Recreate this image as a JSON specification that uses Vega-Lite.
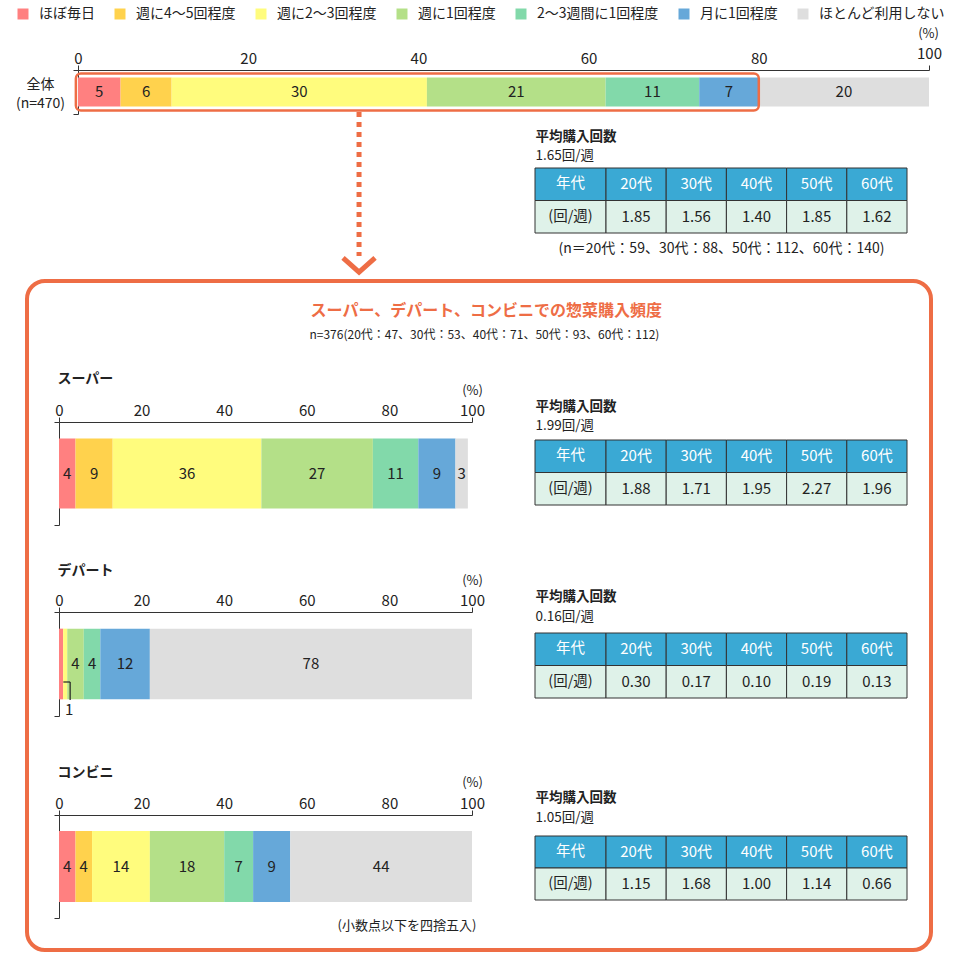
{
"$schema": "https://vega.github.io/schema/vega-lite/v6.json",
"width": 960, "height": 963, "autosize": "none", "padding": 0, "background": "#ffffff",
"config": {
  "font": "Noto Sans CJK JP",
  "view": {"stroke": null},
  "axis": {"grid": false, "labelColor": "#222222", "titleColor": "#222222", "domainColor": "#333333", "tickColor": "#333333", "domainWidth": 1, "tickWidth": 1},
  "legend": {"labelColor": "#222222"}
},
"datasets": {
  "bars": [
    {"store": "全体 (n=470)", "cat": "ほぼ毎日", "value": 5, "order": 1},
    {"store": "全体 (n=470)", "cat": "週に4〜5回程度", "value": 6, "order": 2},
    {"store": "全体 (n=470)", "cat": "週に2〜3回程度", "value": 30, "order": 3},
    {"store": "全体 (n=470)", "cat": "週に1回程度", "value": 21, "order": 4},
    {"store": "全体 (n=470)", "cat": "2〜3週間に1回程度", "value": 11, "order": 5},
    {"store": "全体 (n=470)", "cat": "月に1回程度", "value": 7, "order": 6},
    {"store": "全体 (n=470)", "cat": "ほとんど利用しない", "value": 20, "order": 7},
    {"store": "スーパー", "cat": "ほぼ毎日", "value": 4, "order": 1},
    {"store": "スーパー", "cat": "週に4〜5回程度", "value": 9, "order": 2},
    {"store": "スーパー", "cat": "週に2〜3回程度", "value": 36, "order": 3},
    {"store": "スーパー", "cat": "週に1回程度", "value": 27, "order": 4},
    {"store": "スーパー", "cat": "2〜3週間に1回程度", "value": 11, "order": 5},
    {"store": "スーパー", "cat": "月に1回程度", "value": 9, "order": 6},
    {"store": "スーパー", "cat": "ほとんど利用しない", "value": 3, "order": 7},
    {"store": "デパート", "cat": "ほぼ毎日", "value": 1, "order": 1},
    {"store": "デパート", "cat": "週に4〜5回程度", "value": 0, "order": 2},
    {"store": "デパート", "cat": "週に2〜3回程度", "value": 1, "order": 3},
    {"store": "デパート", "cat": "週に1回程度", "value": 4, "order": 4},
    {"store": "デパート", "cat": "2〜3週間に1回程度", "value": 4, "order": 5},
    {"store": "デパート", "cat": "月に1回程度", "value": 12, "order": 6},
    {"store": "デパート", "cat": "ほとんど利用しない", "value": 78, "order": 7},
    {"store": "コンビニ", "cat": "ほぼ毎日", "value": 4, "order": 1},
    {"store": "コンビニ", "cat": "週に4〜5回程度", "value": 4, "order": 2},
    {"store": "コンビニ", "cat": "週に2〜3回程度", "value": 14, "order": 3},
    {"store": "コンビニ", "cat": "週に1回程度", "value": 18, "order": 4},
    {"store": "コンビニ", "cat": "2〜3週間に1回程度", "value": 7, "order": 5},
    {"store": "コンビニ", "cat": "月に1回程度", "value": 9, "order": 6},
    {"store": "コンビニ", "cat": "ほとんど利用しない", "value": 44, "order": 7}
  ],
  "tables": [
    {"store": "全体", "row": "h", "col": "年代", "text": "年代"},
    {"store": "全体", "row": "v", "col": "年代", "text": "(回/週)"},
    {"store": "全体", "row": "h", "col": "20代", "text": "20代"},
    {"store": "全体", "row": "v", "col": "20代", "text": "1.85"},
    {"store": "全体", "row": "h", "col": "30代", "text": "30代"},
    {"store": "全体", "row": "v", "col": "30代", "text": "1.56"},
    {"store": "全体", "row": "h", "col": "40代", "text": "40代"},
    {"store": "全体", "row": "v", "col": "40代", "text": "1.40"},
    {"store": "全体", "row": "h", "col": "50代", "text": "50代"},
    {"store": "全体", "row": "v", "col": "50代", "text": "1.85"},
    {"store": "全体", "row": "h", "col": "60代", "text": "60代"},
    {"store": "全体", "row": "v", "col": "60代", "text": "1.62"},
    {"store": "スーパー", "row": "h", "col": "年代", "text": "年代"},
    {"store": "スーパー", "row": "v", "col": "年代", "text": "(回/週)"},
    {"store": "スーパー", "row": "h", "col": "20代", "text": "20代"},
    {"store": "スーパー", "row": "v", "col": "20代", "text": "1.88"},
    {"store": "スーパー", "row": "h", "col": "30代", "text": "30代"},
    {"store": "スーパー", "row": "v", "col": "30代", "text": "1.71"},
    {"store": "スーパー", "row": "h", "col": "40代", "text": "40代"},
    {"store": "スーパー", "row": "v", "col": "40代", "text": "1.95"},
    {"store": "スーパー", "row": "h", "col": "50代", "text": "50代"},
    {"store": "スーパー", "row": "v", "col": "50代", "text": "2.27"},
    {"store": "スーパー", "row": "h", "col": "60代", "text": "60代"},
    {"store": "スーパー", "row": "v", "col": "60代", "text": "1.96"},
    {"store": "デパート", "row": "h", "col": "年代", "text": "年代"},
    {"store": "デパート", "row": "v", "col": "年代", "text": "(回/週)"},
    {"store": "デパート", "row": "h", "col": "20代", "text": "20代"},
    {"store": "デパート", "row": "v", "col": "20代", "text": "0.30"},
    {"store": "デパート", "row": "h", "col": "30代", "text": "30代"},
    {"store": "デパート", "row": "v", "col": "30代", "text": "0.17"},
    {"store": "デパート", "row": "h", "col": "40代", "text": "40代"},
    {"store": "デパート", "row": "v", "col": "40代", "text": "0.10"},
    {"store": "デパート", "row": "h", "col": "50代", "text": "50代"},
    {"store": "デパート", "row": "v", "col": "50代", "text": "0.19"},
    {"store": "デパート", "row": "h", "col": "60代", "text": "60代"},
    {"store": "デパート", "row": "v", "col": "60代", "text": "0.13"},
    {"store": "コンビニ", "row": "h", "col": "年代", "text": "年代"},
    {"store": "コンビニ", "row": "v", "col": "年代", "text": "(回/週)"},
    {"store": "コンビニ", "row": "h", "col": "20代", "text": "20代"},
    {"store": "コンビニ", "row": "v", "col": "20代", "text": "1.15"},
    {"store": "コンビニ", "row": "h", "col": "30代", "text": "30代"},
    {"store": "コンビニ", "row": "v", "col": "30代", "text": "1.68"},
    {"store": "コンビニ", "row": "h", "col": "40代", "text": "40代"},
    {"store": "コンビニ", "row": "v", "col": "40代", "text": "1.00"},
    {"store": "コンビニ", "row": "h", "col": "50代", "text": "50代"},
    {"store": "コンビニ", "row": "v", "col": "50代", "text": "1.14"},
    {"store": "コンビニ", "row": "h", "col": "60代", "text": "60代"},
    {"store": "コンビニ", "row": "v", "col": "60代", "text": "0.66"}
  ]
},
"layer": [
  {
    "data": {"name": "bars"},
    "transform": [{"filter": "datum.store === '全体 (n=470)'"}],
    "encoding": {
      "y": {"field": "store", "type": "nominal", "scale": {"range": [70, 114], "paddingInner": 0, "paddingOuter": 0},
        "axis": {"orient": "left", "offset": -78, "tickBand": "extent", "tickSize": 5, "labelExpr": "split(datum.label, ' ')", "labelAlign": "center", "labelBaseline": "middle", "labelPadding": 33, "labelOffset": -8, "labelFontSize": 14, "labelLineHeight": 19.5, "title": null}}
    },
    "layer": [
      {"mark": {"type": "bar", "height": {"band": 0.66}},
       "encoding": {
         "x": {"field": "value", "type": "quantitative", "stack": "zero", "scale": {"domain": [0, 100], "range": [78, 929], "nice": false},
           "axis": {"orient": "top", "offset": -70, "values": [0, 20, 40, 60, 80, 100], "labelFontSize": 15, "labelBaseline": "alphabetic", "labelPadding": {"condition": {"test": "datum.value === 100", "value": 7}, "value": 2}, "labelFlush": false, "labelOverlap": false, "tickSize": 5, "tickOpacity": {"condition": {"test": "datum.value === 0 || datum.value === 100", "value": 1}, "value": 0}, "title": "(%)", "titleX": 928, "titleY": -37, "titleAlign": "center", "titleBaseline": "middle", "titleFontSize": 13, "titleFontWeight": "normal"}},
         "color": {"field": "cat", "type": "nominal",
           "scale": {"domain": ["ほぼ毎日", "週に4〜5回程度", "週に2〜3回程度", "週に1回程度", "2〜3週間に1回程度", "月に1回程度", "ほとんど利用しない"], "range": ["#FF8080", "#FFD24D", "#FFFC7D", "#B4E088", "#82D9AA", "#66A8D9", "#DEDEDE"]},
           "legend": {"orient": "none", "legendX": 16, "legendY": 7, "direction": "horizontal", "columns": 7, "title": null, "symbolType": "square", "symbolSize": 121, "symbolStrokeWidth": 0, "labelFontSize": 14, "labelOffset": 9, "columnPadding": 18, "padding": 0}},
         "order": {"field": "order", "type": "quantitative"}
       }},
      {"mark": {"type": "text", "fontSize": 15, "color": "#222222"},
       "encoding": {
         "x": {"field": "value", "type": "quantitative", "stack": "zero", "bandPosition": 0.5},
         "detail": {"field": "cat", "type": "nominal"},
         "order": {"field": "order", "type": "quantitative"},
         "text": {"condition": {"test": "datum.value >= 3", "field": "value", "type": "quantitative"}, "value": ""}
       }},
      {"transform": [{"filter": "datum.order === 1"}],
       "mark": {"type": "bar", "height": {"band": 0.84}, "fill": "transparent", "stroke": "#EE6D45", "strokeWidth": 2.5, "cornerRadius": 5},
       "encoding": {"x": {"datum": -0.25, "type": "quantitative"}, "x2": {"datum": 80}}}
    ]
  },
  {
    "data": {"name": "tables"},
    "transform": [{"filter": "datum.store === '全体'"}],
    "encoding": {
      "y": {"field": "row", "type": "nominal", "scale": {"range": [168, 233], "paddingInner": 0, "paddingOuter": 0},
        "axis": {"orient": "left", "offset": -535, "labels": false, "ticks": false, "domain": false, "title": "1.65回/週", "titleAngle": 0, "titleAlign": "left", "titleBaseline": "middle", "titleX": 0, "titleY": 155, "titleFontSize": 13.5, "titleFontWeight": "normal"}}
    },
    "layer": [
      {"transform": [{"filter": "datum.col === '年代'"}],
       "encoding": {"x": {"field": "col", "type": "nominal", "scale": {"range": [535, 606], "paddingInner": 0, "paddingOuter": 0},
         "axis": {"orient": "top", "offset": -168, "labels": false, "ticks": false, "domain": false, "title": "平均購入回数", "titleX": 535, "titleY": -32, "titleAlign": "left", "titleBaseline": "middle", "titleFontSize": 13.5, "titleFontWeight": "bold"}}},
       "layer": [
         {"mark": {"type": "rect", "stroke": "#333333", "strokeWidth": 1},
          "encoding": {"fill": {"field": "row", "type": "nominal", "scale": {"domain": ["h", "v"], "range": ["#3AA9D4", "#DFF2E9"]}, "legend": null}}},
         {"mark": {"type": "text", "fontSize": 14.5},
          "encoding": {"text": {"field": "text", "type": "nominal"}, "color": {"condition": {"test": "datum.row === 'h'", "value": "#ffffff"}, "value": "#222222"}}}
       ]},
      {"transform": [{"filter": "datum.col !== '年代'"}],
       "encoding": {"x": {"field": "col", "type": "nominal", "scale": {"range": [606, 907], "paddingInner": 0, "paddingOuter": 0},
         "axis": {"orient": "bottom", "offset": -730, "labels": false, "ticks": false, "domain": false, "title": "(n＝20代：59、30代：88、50代：112、60代：140)", "titleX": 721, "titleY": 15, "titleAlign": "center", "titleBaseline": "middle", "titleFontSize": 14, "titleFontWeight": "normal"}}},
       "layer": [
         {"mark": {"type": "rect", "stroke": "#333333", "strokeWidth": 1},
          "encoding": {"fill": {"field": "row", "type": "nominal", "scale": {"domain": ["h", "v"], "range": ["#3AA9D4", "#DFF2E9"]}, "legend": null}}},
         {"mark": {"type": "text", "fontSize": 15},
          "encoding": {"text": {"field": "text", "type": "nominal"}, "color": {"condition": {"test": "datum.row === 'h'", "value": "#ffffff"}, "value": "#222222"}}}
       ]}
    ],
    "resolve": {"scale": {"x": "independent"}}
  },
  {
    "data": {"name": "bars"},
    "transform": [{"filter": "datum.store === 'スーパー'"}],
    "encoding": {
      "y": {"field": "store", "type": "nominal", "scale": {"range": [422, 525], "paddingInner": 0, "paddingOuter": 0},
        "axis": {"orient": "left", "offset": -59, "labels": false, "tickBand": "extent", "tickSize": 5, "title": "スーパー", "titleAngle": 0, "titleX": -2, "titleY": 378, "titleAlign": "left", "titleBaseline": "middle", "titleFontSize": 14, "titleFontWeight": "bold"}}
    },
    "layer": [
      {"mark": {"type": "bar", "height": {"band": 0.68}},
       "encoding": {
         "x": {"field": "value", "type": "quantitative", "stack": "zero", "scale": {"domain": [0, 100], "range": [59, 472], "nice": false},
           "axis": {"orient": "top", "offset": -422, "values": [0, 20, 40, 60, 80, 100], "labelFontSize": 15, "labelBaseline": "alphabetic", "labelPadding": 2, "labelFlush": false, "labelOverlap": false, "tickSize": 5, "tickOpacity": {"condition": {"test": "datum.value === 0 || datum.value === 100", "value": 1}, "value": 0}, "title": "(%)", "titleX": 472, "titleY": -32, "titleAlign": "center", "titleBaseline": "middle", "titleFontSize": 13, "titleFontWeight": "normal"}},
         "color": {"field": "cat", "type": "nominal",
           "scale": {"domain": ["ほぼ毎日", "週に4〜5回程度", "週に2〜3回程度", "週に1回程度", "2〜3週間に1回程度", "月に1回程度", "ほとんど利用しない"], "range": ["#FF8080", "#FFD24D", "#FFFC7D", "#B4E088", "#82D9AA", "#66A8D9", "#DEDEDE"]},
           "legend": {"orient": "none", "legendX": 16, "legendY": 7, "direction": "horizontal", "columns": 7, "title": null, "symbolType": "square", "symbolSize": 121, "symbolStrokeWidth": 0, "labelFontSize": 14, "labelOffset": 9, "columnPadding": 18, "padding": 0}},
         "order": {"field": "order", "type": "quantitative"}
       }},
      {"mark": {"type": "text", "fontSize": 15, "color": "#222222"},
       "encoding": {
         "x": {"field": "value", "type": "quantitative", "stack": "zero", "bandPosition": 0.5},
         "detail": {"field": "cat", "type": "nominal"},
         "order": {"field": "order", "type": "quantitative"},
         "text": {"condition": {"test": "datum.value >= 3", "field": "value", "type": "quantitative"}, "value": ""}
       }}
    ]
  },
  {
    "data": {"name": "tables"},
    "transform": [{"filter": "datum.store === 'スーパー'"}],
    "encoding": {
      "y": {"field": "row", "type": "nominal", "scale": {"range": [440, 505], "paddingInner": 0, "paddingOuter": 0},
        "axis": {"orient": "left", "offset": -535, "labels": false, "ticks": false, "domain": false, "title": "1.99回/週", "titleAngle": 0, "titleAlign": "left", "titleBaseline": "middle", "titleX": 0, "titleY": 425, "titleFontSize": 13.5, "titleFontWeight": "normal"}}
    },
    "layer": [
      {"transform": [{"filter": "datum.col === '年代'"}],
       "encoding": {"x": {"field": "col", "type": "nominal", "scale": {"range": [535, 606], "paddingInner": 0, "paddingOuter": 0},
         "axis": {"orient": "top", "offset": -440, "labels": false, "ticks": false, "domain": false, "title": "平均購入回数", "titleX": 535, "titleY": -33.5, "titleAlign": "left", "titleBaseline": "middle", "titleFontSize": 13.5, "titleFontWeight": "bold"}}},
       "layer": [
         {"mark": {"type": "rect", "stroke": "#333333", "strokeWidth": 1},
          "encoding": {"fill": {"field": "row", "type": "nominal", "scale": {"domain": ["h", "v"], "range": ["#3AA9D4", "#DFF2E9"]}, "legend": null}}},
         {"mark": {"type": "text", "fontSize": 14.5},
          "encoding": {"text": {"field": "text", "type": "nominal"}, "color": {"condition": {"test": "datum.row === 'h'", "value": "#ffffff"}, "value": "#222222"}}}
       ]},
      {"transform": [{"filter": "datum.col !== '年代'"}],
       "encoding": {"x": {"field": "col", "type": "nominal", "scale": {"range": [606, 907], "paddingInner": 0, "paddingOuter": 0}, "axis": null}},
       "layer": [
         {"mark": {"type": "rect", "stroke": "#333333", "strokeWidth": 1},
          "encoding": {"fill": {"field": "row", "type": "nominal", "scale": {"domain": ["h", "v"], "range": ["#3AA9D4", "#DFF2E9"]}, "legend": null}}},
         {"mark": {"type": "text", "fontSize": 15},
          "encoding": {"text": {"field": "text", "type": "nominal"}, "color": {"condition": {"test": "datum.row === 'h'", "value": "#ffffff"}, "value": "#222222"}}}
       ]}
    ],
    "resolve": {"scale": {"x": "independent"}}
  },
  {
    "data": {"name": "bars"},
    "transform": [{"filter": "datum.store === 'デパート'"}],
    "encoding": {
      "y": {"field": "store", "type": "nominal", "scale": {"range": [612, 716], "paddingInner": 0, "paddingOuter": 0},
        "axis": {"orient": "left", "offset": -59, "labels": false, "tickBand": "extent", "tickSize": 5, "title": "デパート", "titleAngle": 0, "titleX": -2, "titleY": 570, "titleAlign": "left", "titleBaseline": "middle", "titleFontSize": 14, "titleFontWeight": "bold"}}
    },
    "layer": [
      {"mark": {"type": "bar", "height": {"band": 0.68}},
       "encoding": {
         "x": {"field": "value", "type": "quantitative", "stack": "zero", "scale": {"domain": [0, 100], "range": [59, 472], "nice": false},
           "axis": {"orient": "top", "offset": -612, "values": [0, 20, 40, 60, 80, 100], "labelFontSize": 15, "labelBaseline": "alphabetic", "labelPadding": 2, "labelFlush": false, "labelOverlap": false, "tickSize": 5, "tickOpacity": {"condition": {"test": "datum.value === 0 || datum.value === 100", "value": 1}, "value": 0}, "title": "(%)", "titleX": 472, "titleY": -32, "titleAlign": "center", "titleBaseline": "middle", "titleFontSize": 13, "titleFontWeight": "normal"}},
         "color": {"field": "cat", "type": "nominal",
           "scale": {"domain": ["ほぼ毎日", "週に4〜5回程度", "週に2〜3回程度", "週に1回程度", "2〜3週間に1回程度", "月に1回程度", "ほとんど利用しない"], "range": ["#FF8080", "#FFD24D", "#FFFC7D", "#B4E088", "#82D9AA", "#66A8D9", "#DEDEDE"]},
           "legend": {"orient": "none", "legendX": 16, "legendY": 7, "direction": "horizontal", "columns": 7, "title": null, "symbolType": "square", "symbolSize": 121, "symbolStrokeWidth": 0, "labelFontSize": 14, "labelOffset": 9, "columnPadding": 18, "padding": 0}},
         "order": {"field": "order", "type": "quantitative"}
       }},
      {"mark": {"type": "text", "fontSize": 15, "color": "#222222"},
       "encoding": {
         "x": {"field": "value", "type": "quantitative", "stack": "zero", "bandPosition": 0.5},
         "detail": {"field": "cat", "type": "nominal"},
         "order": {"field": "order", "type": "quantitative"},
         "text": {"condition": {"test": "datum.value >= 3", "field": "value", "type": "quantitative"}, "value": ""}
       }},
      {"transform": [{"filter": "datum.order === 3"}],
       "layer": [
         {"mark": {"type": "rule", "color": "#222222", "strokeWidth": 1.2, "yOffset": 18},
          "encoding": {"x": {"datum": 1.05, "type": "quantitative"}, "x2": {"datum": 2.7}}},
         {"mark": {"type": "tick", "orient": "vertical", "color": "#222222", "thickness": 1.2, "size": 18, "yOffset": 27, "opacity": 1},
          "encoding": {"x": {"datum": 2.7, "type": "quantitative"}}},
         {"mark": {"type": "text", "fontSize": 15, "color": "#222222", "yOffset": 46},
          "encoding": {"x": {"datum": 2.45, "type": "quantitative"}, "text": {"field": "value", "type": "quantitative"}}}
       ]}
    ]
  },
  {
    "data": {"name": "tables"},
    "transform": [{"filter": "datum.store === 'デパート'"}],
    "encoding": {
      "y": {"field": "row", "type": "nominal", "scale": {"range": [633, 698], "paddingInner": 0, "paddingOuter": 0},
        "axis": {"orient": "left", "offset": -535, "labels": false, "ticks": false, "domain": false, "title": "0.16回/週", "titleAngle": 0, "titleAlign": "left", "titleBaseline": "middle", "titleX": 0, "titleY": 616, "titleFontSize": 13.5, "titleFontWeight": "normal"}}
    },
    "layer": [
      {"transform": [{"filter": "datum.col === '年代'"}],
       "encoding": {"x": {"field": "col", "type": "nominal", "scale": {"range": [535, 606], "paddingInner": 0, "paddingOuter": 0},
         "axis": {"orient": "top", "offset": -633, "labels": false, "ticks": false, "domain": false, "title": "平均購入回数", "titleX": 535, "titleY": -36.5, "titleAlign": "left", "titleBaseline": "middle", "titleFontSize": 13.5, "titleFontWeight": "bold"}}},
       "layer": [
         {"mark": {"type": "rect", "stroke": "#333333", "strokeWidth": 1},
          "encoding": {"fill": {"field": "row", "type": "nominal", "scale": {"domain": ["h", "v"], "range": ["#3AA9D4", "#DFF2E9"]}, "legend": null}}},
         {"mark": {"type": "text", "fontSize": 14.5},
          "encoding": {"text": {"field": "text", "type": "nominal"}, "color": {"condition": {"test": "datum.row === 'h'", "value": "#ffffff"}, "value": "#222222"}}}
       ]},
      {"transform": [{"filter": "datum.col !== '年代'"}],
       "encoding": {"x": {"field": "col", "type": "nominal", "scale": {"range": [606, 907], "paddingInner": 0, "paddingOuter": 0}, "axis": null}},
       "layer": [
         {"mark": {"type": "rect", "stroke": "#333333", "strokeWidth": 1},
          "encoding": {"fill": {"field": "row", "type": "nominal", "scale": {"domain": ["h", "v"], "range": ["#3AA9D4", "#DFF2E9"]}, "legend": null}}},
         {"mark": {"type": "text", "fontSize": 15},
          "encoding": {"text": {"field": "text", "type": "nominal"}, "color": {"condition": {"test": "datum.row === 'h'", "value": "#ffffff"}, "value": "#222222"}}}
       ]}
    ],
    "resolve": {"scale": {"x": "independent"}}
  },
  {
    "data": {"name": "bars"},
    "transform": [{"filter": "datum.store === 'コンビニ'"}],
    "encoding": {
      "y": {"field": "store", "type": "nominal", "scale": {"range": [815, 918], "paddingInner": 0, "paddingOuter": 0},
        "axis": {"orient": "left", "offset": -59, "labels": false, "tickBand": "extent", "tickSize": 5, "title": "コンビニ", "titleAngle": 0, "titleX": -2, "titleY": 772, "titleAlign": "left", "titleBaseline": "middle", "titleFontSize": 14, "titleFontWeight": "bold"}}
    },
    "layer": [
      {"mark": {"type": "bar", "height": {"band": 0.69}},
       "encoding": {
         "x": {"field": "value", "type": "quantitative", "stack": "zero", "scale": {"domain": [0, 100], "range": [59, 472], "nice": false},
           "axis": {"orient": "top", "offset": -815, "values": [0, 20, 40, 60, 80, 100], "labelFontSize": 15, "labelBaseline": "alphabetic", "labelPadding": 2, "labelFlush": false, "labelOverlap": false, "tickSize": 5, "tickOpacity": {"condition": {"test": "datum.value === 0 || datum.value === 100", "value": 1}, "value": 0}, "title": "(%)", "titleX": 472, "titleY": -33, "titleAlign": "center", "titleBaseline": "middle", "titleFontSize": 13, "titleFontWeight": "normal"}},
         "color": {"field": "cat", "type": "nominal",
           "scale": {"domain": ["ほぼ毎日", "週に4〜5回程度", "週に2〜3回程度", "週に1回程度", "2〜3週間に1回程度", "月に1回程度", "ほとんど利用しない"], "range": ["#FF8080", "#FFD24D", "#FFFC7D", "#B4E088", "#82D9AA", "#66A8D9", "#DEDEDE"]},
           "legend": {"orient": "none", "legendX": 16, "legendY": 7, "direction": "horizontal", "columns": 7, "title": null, "symbolType": "square", "symbolSize": 121, "symbolStrokeWidth": 0, "labelFontSize": 14, "labelOffset": 9, "columnPadding": 18, "padding": 0}},
         "order": {"field": "order", "type": "quantitative"}
       }},
      {"mark": {"type": "text", "fontSize": 15, "color": "#222222"},
       "encoding": {
         "x": {"field": "value", "type": "quantitative", "stack": "zero", "bandPosition": 0.5},
         "detail": {"field": "cat", "type": "nominal"},
         "order": {"field": "order", "type": "quantitative"},
         "text": {"condition": {"test": "datum.value >= 3", "field": "value", "type": "quantitative"}, "value": ""}
       }}
    ]
  },
  {
    "data": {"name": "tables"},
    "transform": [{"filter": "datum.store === 'コンビニ'"}],
    "encoding": {
      "y": {"field": "row", "type": "nominal", "scale": {"range": [836, 900], "paddingInner": 0, "paddingOuter": 0},
        "axis": {"orient": "left", "offset": -535, "labels": false, "ticks": false, "domain": false, "title": "1.05回/週", "titleAngle": 0, "titleAlign": "left", "titleBaseline": "middle", "titleX": 0, "titleY": 817, "titleFontSize": 13.5, "titleFontWeight": "normal"}}
    },
    "layer": [
      {"transform": [{"filter": "datum.col === '年代'"}],
       "encoding": {"x": {"field": "col", "type": "nominal", "scale": {"range": [535, 606], "paddingInner": 0, "paddingOuter": 0},
         "axis": {"orient": "top", "offset": -836, "labels": false, "ticks": false, "domain": false, "title": "平均購入回数", "titleX": 535, "titleY": -38.5, "titleAlign": "left", "titleBaseline": "middle", "titleFontSize": 13.5, "titleFontWeight": "bold"}}},
       "layer": [
         {"mark": {"type": "rect", "stroke": "#333333", "strokeWidth": 1},
          "encoding": {"fill": {"field": "row", "type": "nominal", "scale": {"domain": ["h", "v"], "range": ["#3AA9D4", "#DFF2E9"]}, "legend": null}}},
         {"mark": {"type": "text", "fontSize": 14.5},
          "encoding": {"text": {"field": "text", "type": "nominal"}, "color": {"condition": {"test": "datum.row === 'h'", "value": "#ffffff"}, "value": "#222222"}}}
       ]},
      {"transform": [{"filter": "datum.col !== '年代'"}],
       "encoding": {"x": {"field": "col", "type": "nominal", "scale": {"range": [606, 907], "paddingInner": 0, "paddingOuter": 0}, "axis": null}},
       "layer": [
         {"mark": {"type": "rect", "stroke": "#333333", "strokeWidth": 1},
          "encoding": {"fill": {"field": "row", "type": "nominal", "scale": {"domain": ["h", "v"], "range": ["#3AA9D4", "#DFF2E9"]}, "legend": null}}},
         {"mark": {"type": "text", "fontSize": 15},
          "encoding": {"text": {"field": "text", "type": "nominal"}, "color": {"condition": {"test": "datum.row === 'h'", "value": "#ffffff"}, "value": "#222222"}}}
       ]}
    ],
    "resolve": {"scale": {"x": "independent"}}
  },
  {
    "data": {"values": [{}]},
    "layer": [
      {"mark": {"type": "rect", "fill": "transparent", "stroke": "#EE6D45", "strokeWidth": 4, "cornerRadius": 18},
       "encoding": {
         "x": {"datum": 0, "type": "quantitative", "scale": {"domain": [0, 1], "range": [27, 931], "nice": false, "zero": false}, "axis": null},
         "x2": {"datum": 1},
         "y": {"datum": 0, "type": "quantitative", "scale": {"domain": [0, 1], "range": [281, 950], "nice": false, "zero": false}, "axis": null},
         "y2": {"datum": 1}}},
      {"mark": {"type": "text", "text": "スーパー、デパート、コンビニでの惣菜購入頻度", "fontSize": 16, "fontWeight": "bold", "color": "#EE6D45"},
       "encoding": {"x": {"datum": 0.508, "type": "quantitative"}, "y": {"datum": 0.045, "type": "quantitative"}}},
      {"mark": {"type": "text", "text": "n=376(20代：47、30代：53、40代：71、50代：93、60代：112)", "fontSize": 12, "color": "#222222"},
       "encoding": {"x": {"datum": 0.506, "type": "quantitative"}, "y": {"datum": 0.081, "type": "quantitative"}}},
      {"mark": {"type": "text", "text": "(小数点以下を四捨五入)", "fontSize": 13, "color": "#222222", "align": "right"},
       "encoding": {"x": {"datum": 0.497, "type": "quantitative"}, "y": {"datum": 0.964, "type": "quantitative"}}},
      {"mark": {"type": "rule", "color": "#EE6D45", "strokeWidth": 5, "strokeDash": [5, 5]},
       "encoding": {"x": {"datum": 0.3673, "type": "quantitative"}, "y": {"datum": -0.2526, "type": "quantitative"}, "y2": {"datum": -0.0374}}},
      {"mark": {"type": "point", "shape": "M-1,-0.45L0,0.45L1,-0.45", "filled": false, "size": 1024, "color": "#EE6D45", "strokeWidth": 5, "opacity": 1},
       "encoding": {"x": {"datum": 0.3673, "type": "quantitative"}, "y": {"datum": -0.0239, "type": "quantitative"}}}
    ]
  }
],
"resolve": {"scale": {"x": "independent", "y": "independent"}}
}
